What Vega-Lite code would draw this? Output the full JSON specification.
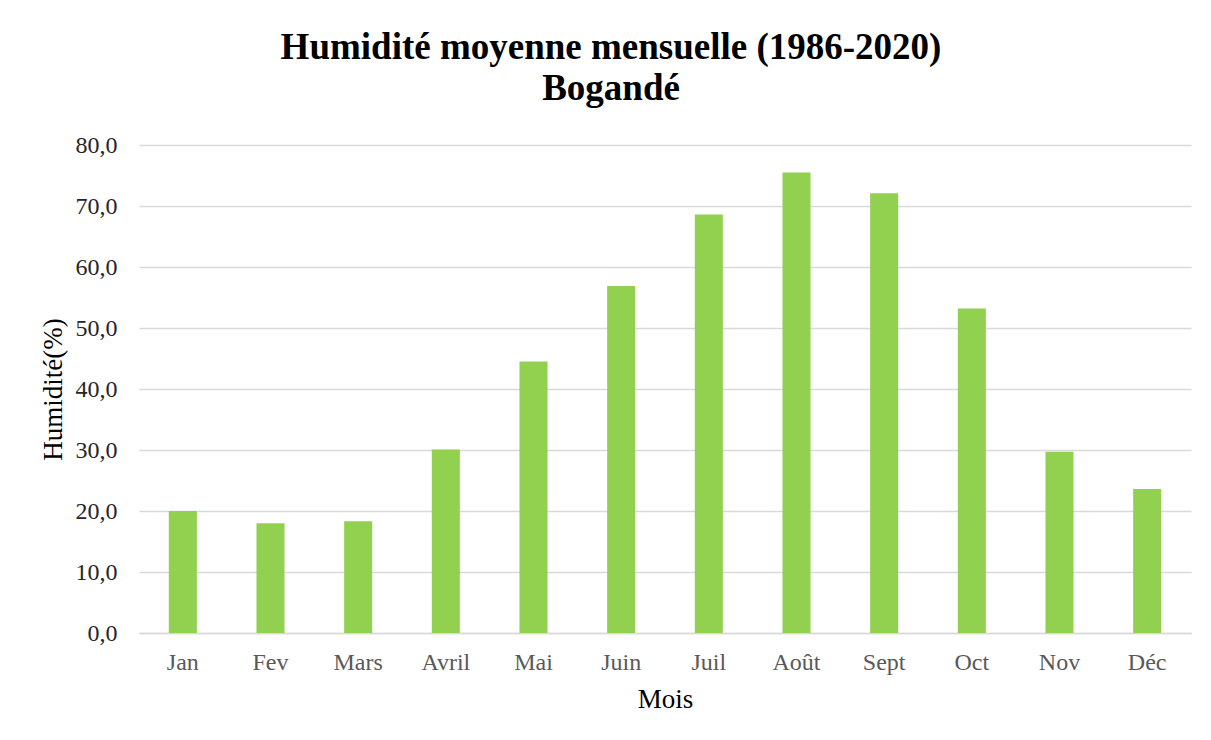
{
  "$schema": "https://vega.github.io/schema/vega-lite/v6.json",
  "width": 1052,
  "height": 488,
  "autosize": {"type": "none"},
  "padding": {"left": 139, "top": 145, "right": 20, "bottom": 107},
  "background": "white",
  "title": {
    "text": ["Humidité moyenne mensuelle (1986-2020)", "Bogandé"],
    "font": "Liberation Serif",
    "fontSize": 37,
    "fontWeight": "bold",
    "color": "black",
    "anchor": "middle",
    "dx": -54,
    "offset": 25,
    "lineHeight": 41
  },
  "data": {
    "values": [
      {"mois": "Jan", "humidite": 20.0},
      {"mois": "Fev", "humidite": 18.0},
      {"mois": "Mars", "humidite": 18.3},
      {"mois": "Avril", "humidite": 30.1},
      {"mois": "Mai", "humidite": 44.5},
      {"mois": "Juin", "humidite": 56.9},
      {"mois": "Juil", "humidite": 68.6},
      {"mois": "Août", "humidite": 75.5},
      {"mois": "Sept", "humidite": 72.1},
      {"mois": "Oct", "humidite": 53.2},
      {"mois": "Nov", "humidite": 29.7},
      {"mois": "Déc", "humidite": 23.6}
    ]
  },
  "mark": {"type": "bar", "color": "#92d050"},
  "encoding": {
    "x": {
      "field": "mois",
      "type": "nominal",
      "sort": null,
      "scale": {"paddingInner": 0.68, "paddingOuter": 0.34},
      "axis": {
        "title": "Mois",
        "titleFont": "Liberation Serif",
        "titleFontSize": 27,
        "titleFontWeight": "normal",
        "titleColor": "black",
        "titlePadding": 12,
        "labelFont": "Liberation Serif",
        "labelFontSize": 24,
        "labelColor": "#595959",
        "labelAngle": 0,
        "labelPadding": 17,
        "ticks": false,
        "domainColor": "#d9d9d9",
        "domainWidth": 1.5,
        "grid": false
      }
    },
    "y": {
      "field": "humidite",
      "type": "quantitative",
      "scale": {"domain": [0, 80]},
      "axis": {
        "title": "Humidité(%)",
        "titleFont": "Liberation Serif",
        "titleFontSize": 27,
        "titleFontWeight": "normal",
        "titleColor": "black",
        "titlePadding": 8,
        "values": [0, 10, 20, 30, 40, 50, 60, 70, 80],
        "labelExpr": "replace(format(datum.value, '.1f'), '.', ',')",
        "labelFont": "Liberation Serif",
        "labelFontSize": 24,
        "labelColor": "#262626",
        "labelPadding": 22,
        "ticks": false,
        "domain": false,
        "gridColor": "#d9d9d9",
        "gridWidth": 1.5
      }
    }
  },
  "config": {"view": {"stroke": null}}
}
